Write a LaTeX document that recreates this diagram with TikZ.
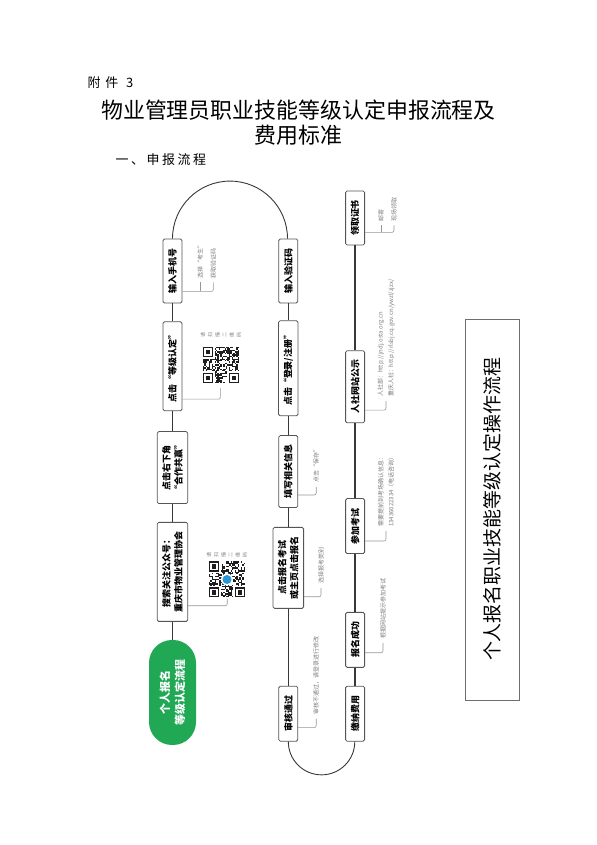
\documentclass[tikz,border=0pt]{standalone}
\usepackage{fontspec}
\setmainfont{Noto Sans CJK SC}
\usetikzlibrary{positioning, calc}
\definecolor{LineGray}{RGB}{55,55,55}
\definecolor{BoxGray}{RGB}{85,85,85}
\definecolor{NoteGray}{RGB}{125,125,125}
\definecolor{StartGreen}{RGB}{32,168,84}
\definecolor{LogoBlue}{RGB}{40,150,215}
\definecolor{QrBlack}{RGB}{30,30,30}

% fake QR patch: #1,#2 lower left, #3 seed
\newcommand{\qrpatch}[3]{%
  \begin{scope}[shift={(#1,#2)}, x=1.44bp, y=1.44bp]
    \clip (0,0) rectangle (25,25);
    \pgfmathsetseed{#3}
    \foreach \qi in {0,...,24}{
      \foreach \qj in {0,...,24}{
        \pgfmathtruncatemacro{\qrbit}{rnd<0.5}
        \ifnum\qrbit=1 \fill[QrBlack] (\qi,\qj) rectangle ++(1,1);\fi
      }
    }
    \foreach \fx/\fy in {0/0,0/18,18/18}{
      \fill[white] (\fx-1,\fy-1) rectangle ++(9,9);
      \fill[QrBlack] (\fx,\fy) rectangle ++(7,7);
      \fill[white] (\fx+1,\fy+1) rectangle ++(5,5);
      \fill[QrBlack] (\fx+2,\fy+2) rectangle ++(3,3);
    }
  \end{scope}}

\begin{document}
\begin{tikzpicture}[x=1bp, y=1bp, node distance=18bp,
    stepbox/.style={draw=BoxGray, line width=0.8bp, fill=white, rounded corners=1.5bp, inner xsep=6bp, inner ysep=5bp, minimum height=19bp, align=center, font=\fontsize{9}{12}\selectfont\bfseries},
    startpill/.style={fill=StartGreen, text=white, rounded corners=23bp, minimum width=105bp, minimum height=47bp, align=center, font=\fontsize{11}{15}\selectfont\bfseries},
    flow/.style={draw=LineGray, line width=0.9bp},
    flowthick/.style={draw=LineGray, line width=1.8bp},
    notelink/.style={draw=NoteGray!80, line width=0.6bp, rounded corners=2bp},
    notetext/.style={text=NoteGray, anchor=west, inner sep=1bp, xshift=3bp, align=left, font=\fontsize{6}{10.5}\selectfont},
    qrlabel/.style={text=NoteGray, inner sep=0pt, align=center, font=\fontsize{5}{7.2}\selectfont}]

    \useasboundingbox (0,0) rectangle (597,845);

    % Heading
    \node[anchor=west, font=\fontsize{13}{15}\selectfont\addfontfeature{LetterSpace=38}] (annex) at (84,762) {附件 3};
    \node[font=\fontsize{22}{25}\selectfont] (title) at (298.5,735) {物业管理员职业技能等级认定申报流程及};
    \node[font=\fontsize{22}{25}\selectfont] (subtitle) at (298.5,710) {费用标准};
    \node[anchor=west, font=\fontsize{13}{15}\selectfont\addfontfeature{LetterSpace=20}] (section) at (112,685) {一、申报流程};

    \begin{scope}[rotate=90, transform shape]
        % Main flow
        \node[startpill] (start) at (152.5,-172.5) {个人报名\\等级认定流程};
        \node[stepbox, minimum width=99bp, right=of start] (search) {搜索关注公众号：\\重庆市物业管理协会};
        \node[stepbox, minimum width=72bp, right=of search] (corner) {点击右下角\\“合作共赢”};
        \node[stepbox, minimum width=89bp, right=20bp of corner] (grade) {点击“等级认定”};
        \node[stepbox, minimum width=64bp, right=of grade] (phone) {输入手机号};
        \node[stepbox, minimum width=64bp, below=96bp of phone] (code) {输入验证码};
        \node[stepbox, minimum width=95bp, left=17bp of code] (login) {点击“登录/注册”};
        \node[stepbox, minimum width=72bp, left=19bp of login] (fill) {填写相关信息};
        \node[stepbox, minimum width=81bp, left=19bp of fill] (apply) {点击报名考试\\或主页点击报名};
        \node[stepbox, minimum width=55bp, left=77bp of apply] (audit) {审核通过};
        \node[stepbox, minimum width=55bp, below=47bp of audit] (pay) {缴纳费用};
        \node[stepbox, minimum width=55bp, right=of pay] (success) {报名成功};
        \node[stepbox, minimum width=55bp, right=58bp of success] (exam) {参加考试};
        \node[stepbox, minimum width=72bp, right=75bp of exam] (publish) {人社网站公示};
        \node[stepbox, minimum width=54bp, right=105bp of publish] (cert) {领取证书};

        \draw[flow] (start) -- (search);
        \draw[flow] (search) -- (corner);
        \draw[flow] (corner) -- (grade);
        \draw[flow] (grade) -- (phone);
        \draw[flow] (phone.east) arc[start angle=90, end angle=-90, radius=57.5];
        \draw[flow] (code) -- (login);
        \draw[flow] (login) -- (fill);
        \draw[flow] (fill) -- (apply);
        \draw[flow] (apply) -- (audit);
        \draw[flow] (audit.west) arc[start angle=90, end angle=270, radius=33.25];
        \draw[flowthick] (pay) -- (success);
        \draw[flowthick] (success) -- (exam);
        \draw[flowthick] (exam) -- (publish);
        \draw[flowthick] (publish) -- (cert);

        % Notes
        \draw[notelink] ($(phone.south west)+(12,0)$) -- ++(0,-31) -- ++(9,0) node[notetext] {获取验证码};
        \draw[notelink] ($(phone.south west)+(12,-18)$) -- ++(9,0) node[notetext] {选择“考生”};
        \draw[notelink] ($(grade.south west)+(12,0)$) -- ++(0,-38) -- ++(11,0);
        \qrpatch{462}{-239}{7}
        \node[qrlabel] (qrlabela) at (510,-221) {请\\扫\\描\\二\\维\\码};
        \draw[notelink] ($(search.south west)+(16,0)$) -- ++(0,-39) -- ++(7,0);
        \qrpatch{247.5}{-245}{11}
        \fill[white] (265.5,-227) circle (6);
        \fill[LogoBlue] (265.5,-227) circle (4.5);
        \node[qrlabel] (qrlabelb) at (290,-227) {请\\扫\\描\\二\\维\\码};
        \draw[notelink] ($(fill.south west)+(13,0)$) -- ++(0,-18) -- ++(8,0) node[notetext] {点击“保存”};
        \draw[notelink] ($(apply.south west)+(12,0)$) -- ++(0,-17) -- ++(9,0) node[notetext] {选择报考类别};
        \draw[notelink] ($(audit.south west)+(14,0)$) -- ++(0,-18) -- ++(9,0) node[notetext] {审核不通过，请登录进行修改};
        \draw[notelink] ($(success.south west)+(15,0)$) -- ++(0,-18) -- ++(10,0) node[notetext] {根据网站提示参加考试};
        \draw[notelink] ($(exam.south west)+(13,0)$) -- ++(0,-21) -- ++(10,0) node[notetext] {需要提前到考场确认信息：\\13436022334（电话咨询）};
        \draw[notelink] ($(publish.south west)+(13,0)$) -- ++(0,-21) -- ++(9,0) node[notetext] {人社部：http://jndj.osta.org.cn\\重庆人社：http://rlsbj.cq.gov.cn/ywzl/zjzx/};
        \draw[notelink] ($(cert.south west)+(13,0)$) -- ++(0,-29) -- ++(7,0) node[notetext] {现场领取};
        \draw[notelink] ($(cert.south west)+(13,-16)$) -- ++(7,0) node[notetext] {邮寄};

        % Side banner
        \node[draw=BoxGray!85, line width=0.8bp, minimum width=381bp, minimum height=54bp, font=\fontsize{19}{22}\selectfont] (banner) at (335.5,-492) {个人报名职业技能等级认定操作流程};
    \end{scope}
\end{tikzpicture}
\end{document}
